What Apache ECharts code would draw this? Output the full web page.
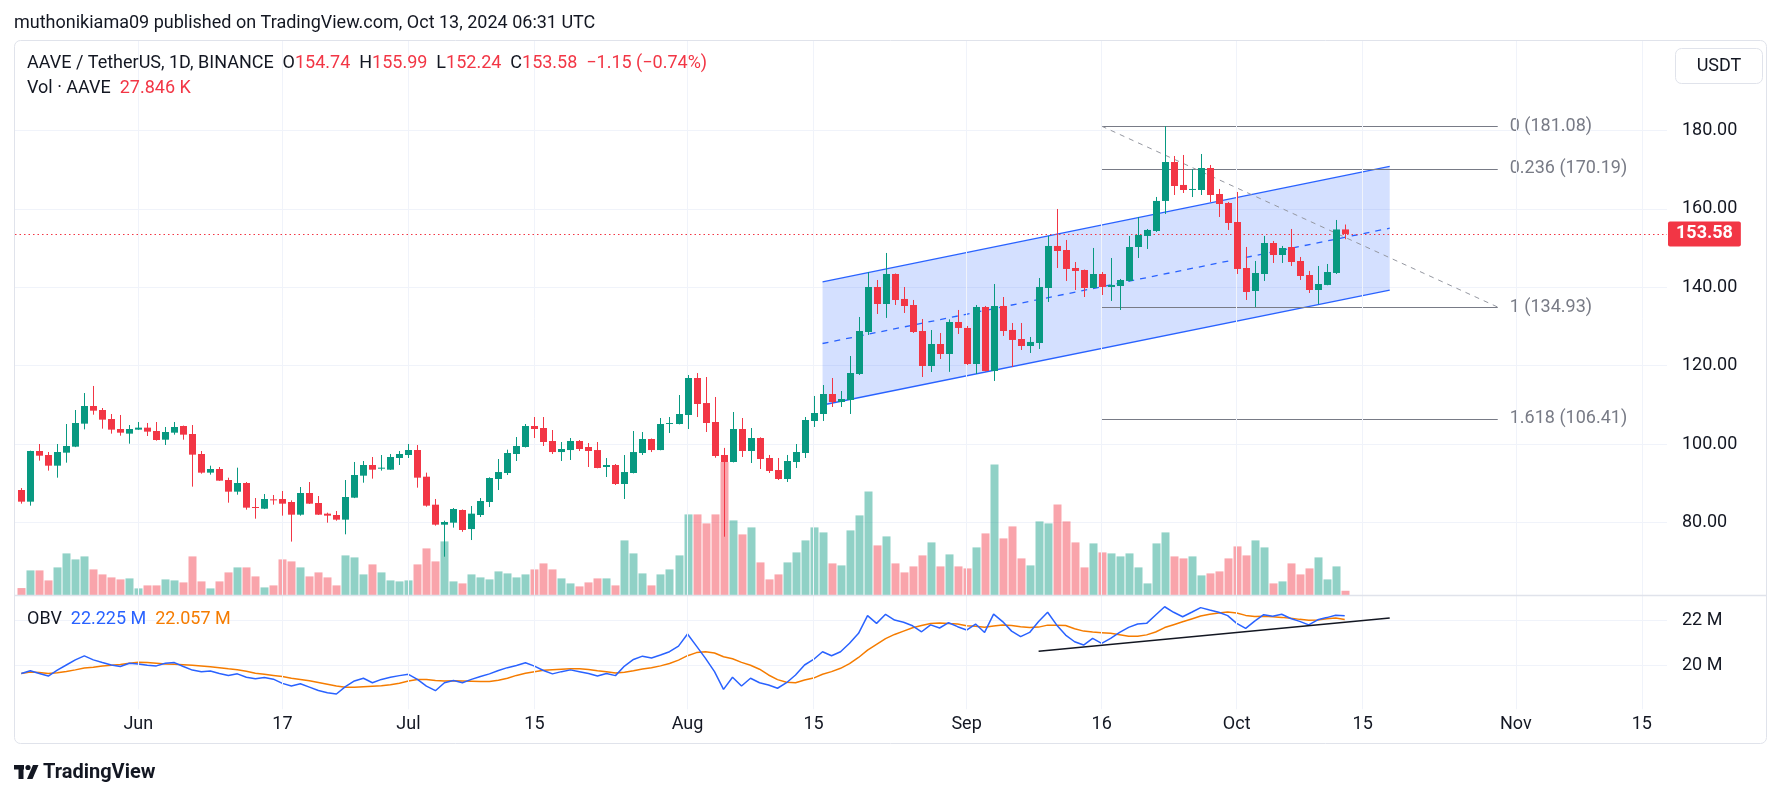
<!DOCTYPE html>
<html><head><meta charset="utf-8">
<script src="https://cdn.jsdelivr.net/npm/echarts@6/dist/echarts.min.js"></script>
<style>html,body{margin:0;padding:0;background:#fff;}#c{width:1781px;height:799px;}</style>
</head><body><div id="c"></div>
<script>
// ---------------- DATA ----------------
const startDate = '2024-05-19';
const openP = [88.26,85.29,98.21,97.19,94.47,97.79,99.32,105.19,109.69,108.67,106.38,103.83,102.64,103.66,104.17,103.32,101.1,102.89,104.59,102.55,97.45,92.69,93.62,90.81,87.84,90.05,83.93,83.5,85.88,85.97,85.2,81.97,87.5,84.95,82.23,81.89,80.7,86.31,91.92,94.64,93.79,93.45,96.43,97.19,98.47,91.66,84.52,79.42,79.93,83.16,78.3,81.88,85.2,91.07,92.6,97.45,99.23,104.59,104.08,100.76,97.95,98.46,100.76,99.23,98.46,94.13,94.64,89.79,92.6,97.7,101.27,98.46,105.1,105.1,107.4,116.83,110.45,105.61,97.2,95.41,103.83,98.22,101.53,96.43,93.37,91.07,95.41,97.7,105.87,107.66,112.76,110.72,111.23,117.86,128.57,140.05,135.72,143.37,137.0,135.46,128.83,119.9,125.51,122.96,131.13,129.6,120.41,134.95,118.63,135.21,129.09,126.79,125.0,125.77,139.8,150.52,149.49,144.9,144.39,139.8,143.37,140.06,140.31,141.59,150.26,153.07,154.34,162.0,171.94,166.08,164.9,164.8,170.41,163.78,161.48,156.64,144.9,139.03,143.37,151.28,148.22,150.26,146.69,143.12,139.29,140.57,143.63,154.74];
const highP = [88.77,98.3,100.0,97.96,100.0,105.1,108.67,113.0,114.8,109.18,107.65,107.4,104.84,105.61,105.36,105.61,104.34,105.61,104.7,104.84,98.21,94.47,94.13,91.41,93.96,90.3,86.22,87.24,86.99,88.01,85.63,89.03,90.3,86.73,82.48,82.91,90.81,95.41,95.66,96.68,97.19,97.45,98.21,100.0,99.74,92.69,85.97,80.44,83.67,83.3,84.18,86.22,91.5,96.17,98.55,101.78,105.1,106.88,106.88,103.57,100.51,101.53,101.02,100.25,100.51,96.42,94.89,97.19,103.31,103.06,101.4,106.63,106.88,112.5,117.6,118.1,117.09,111.99,99.0,108.16,106.63,104.08,101.7,97.2,96.43,97.2,100.0,106.89,112.25,115.05,116.84,113.52,122.45,132.4,143.88,141.84,148.73,143.5,140.05,136.74,131.89,129.08,128.32,131.8,134.19,130.11,135.46,135.21,140.82,137.5,130.87,130.87,127.3,142.35,153.07,159.95,152.05,146.43,144.5,150.01,143.88,147.45,142.1,153.07,157.91,154.85,163.02,181.08,173.47,173.73,170.16,173.98,171.18,165.06,161.74,164.29,150.26,146.69,153.07,151.79,150.52,154.85,147.71,144.14,145.41,145.92,157.15,155.99];
const lowP = [84.78,84.27,95.75,93.2,91.41,95.24,99.2,103.74,107.48,103.91,102.64,102.12,100.08,103.6,102.04,100.85,99.74,102.38,101.1,89.12,92.43,92.18,90.6,85.03,87.07,83.25,80.95,83.4,84.52,81.72,75.1,81.72,84.7,81.9,79.93,80.44,76.96,86.2,90.13,91.16,93.2,93.4,94.64,96.43,88.86,84.01,79.17,71.25,78.66,77.6,75.5,81.37,83.92,88.26,92.09,95.66,99.1,101.53,99.49,97.45,95.66,95.92,98.21,94.13,93.8,91.58,89.54,85.97,92.5,97.19,97.95,98.4,102.8,105.0,103.82,106.88,103.06,96.5,76.35,95.3,96.69,95.15,93.62,92.6,90.82,90.31,93.88,96.43,104.34,105.87,109.44,109.44,107.66,117.6,127.81,133.17,132.16,135.46,133.42,128.32,117.09,118.37,121.69,118.4,128.07,120.16,117.86,118.5,116.08,127.56,119.65,123.98,123.22,124.24,136.23,144.9,141.59,139.29,137.5,139.7,138.01,136.49,134.19,141.5,147.45,149.75,154.09,158.68,163.52,164.03,163.0,163.52,161.74,157.91,154.6,143.37,136.74,134.95,141.59,146.18,146.18,145.41,141.84,138.52,135.72,140.5,143.37,152.24];
const closeP = [85.29,98.21,97.02,94.47,97.96,99.49,105.36,109.69,108.5,106.21,103.66,102.89,103.83,104.17,103.15,101.02,103.06,104.34,102.38,97.28,92.69,93.62,90.65,87.84,90.05,83.76,83.76,85.97,85.71,84.78,81.97,87.5,84.78,81.97,81.72,80.7,86.48,92.09,94.64,93.45,93.96,96.68,97.45,98.47,91.41,84.27,79.42,80.1,83.42,78.06,82.23,85.46,91.32,92.85,97.7,99.49,104.59,103.82,100.51,97.95,98.72,100.76,98.72,98.21,93.87,94.64,89.79,92.85,97.95,101.27,98.46,105.1,105.35,107.65,116.83,110.2,105.36,96.94,95.41,103.83,98.22,101.53,96.18,93.12,91.07,95.66,97.96,106.12,107.91,112.76,110.72,111.48,118.11,128.83,140.05,135.72,143.37,136.74,135.21,128.57,119.9,125.51,122.96,131.13,129.6,120.41,134.95,118.63,135.21,128.83,126.54,125.0,126.03,140.06,150.52,149.24,144.65,144.14,139.8,143.37,140.06,140.57,141.84,150.26,153.32,154.6,162.0,171.94,165.82,164.8,165.06,170.41,163.52,161.23,156.38,144.65,138.78,143.63,151.28,148.22,150.0,146.43,142.86,139.29,140.82,143.88,154.73,153.58];
// volume, thousands of AAVE
const volumeK = [44,150,150,90,168,252,216,234,156,126,108,96,102,42,60,60,96,90,78,234,84,42,84,138,168,168,114,48,60,216,204,168,114,138,108,60,240,228,126,186,138,90,84,90,186,282,204,324,84,72,126,108,96,144,132,108,126,156,192,156,102,72,54,78,102,102,60,330,252,132,60,126,156,240,486,486,432,486,800,450,366,408,198,96,126,198,258,330,408,378,192,180,390,480,624,300,354,192,138,174,240,318,174,246,174,162,288,372,786,342,414,222,180,444,432,546,444,318,168,312,258,252,234,252,168,72,312,378,234,222,234,120,132,144,222,294,240,330,288,72,84,192,126,162,228,96,174,27.846];
// On-balance volume (blue), millions
const obvM = [19.62,19.74,19.62,19.50,19.77,20.00,20.23,20.41,20.23,20.11,20.00,19.93,20.08,20.05,19.99,19.96,20.08,20.11,19.93,19.77,19.70,19.73,19.62,19.53,19.60,19.45,19.38,19.44,19.36,19.17,19.05,19.15,19.00,18.85,18.75,18.69,19.02,19.28,19.40,19.20,19.35,19.45,19.52,19.58,19.35,19.05,18.84,19.20,19.30,19.20,19.35,19.48,19.60,19.75,19.88,19.98,20.10,19.95,19.75,19.60,19.70,19.78,19.70,19.62,19.50,19.62,19.52,19.95,20.25,20.40,20.32,20.45,20.60,20.85,21.40,20.85,20.30,19.70,18.90,19.45,19.05,19.40,19.20,19.10,18.95,19.20,19.55,20.00,20.25,20.60,20.42,20.60,20.98,21.43,22.23,21.88,22.29,22.03,21.93,21.77,21.50,21.81,21.67,21.91,21.73,21.58,21.85,21.47,22.30,21.96,21.53,21.28,21.47,21.96,22.38,21.81,21.35,21.05,20.90,21.20,20.98,21.20,21.47,21.70,21.85,21.88,22.26,22.63,22.38,22.18,22.38,22.59,22.48,22.38,22.23,21.88,21.65,21.98,22.27,22.20,22.29,22.10,21.97,21.81,22.04,22.14,22.25,22.225];
// OBV smoothing line (orange), millions
const obvMa = [19.62,19.68,19.66,19.62,19.65,19.71,19.78,19.86,19.90,19.96,19.99,20.02,20.08,20.12,20.11,20.08,20.05,20.03,20.01,19.99,19.96,19.92,19.88,19.83,19.79,19.72,19.63,19.58,19.53,19.48,19.40,19.35,19.29,19.21,19.13,19.05,19.00,19.00,19.02,19.04,19.06,19.11,19.18,19.28,19.35,19.35,19.30,19.28,19.29,19.28,19.27,19.26,19.26,19.31,19.40,19.53,19.63,19.70,19.76,19.79,19.81,19.83,19.83,19.80,19.74,19.69,19.64,19.67,19.74,19.82,19.88,19.96,20.07,20.22,20.42,20.56,20.60,20.54,20.37,20.28,20.12,19.99,19.81,19.55,19.34,19.22,19.20,19.32,19.41,19.58,19.70,19.85,20.06,20.34,20.67,20.93,21.19,21.38,21.53,21.68,21.78,21.87,21.90,21.87,21.85,21.77,21.75,21.70,21.76,21.81,21.78,21.73,21.69,21.71,21.80,21.80,21.78,21.64,21.53,21.49,21.46,21.43,21.37,21.30,21.30,21.36,21.49,21.69,21.82,21.95,22.08,22.21,22.29,22.35,22.39,22.35,22.24,22.19,22.20,22.18,22.15,22.11,22.06,22.02,22.03,22.09,22.12,22.057];
// x-axis tick labels
const xTicks = [['2024-06-01','Jun'],['2024-06-17','17'],['2024-07-01','Jul'],['2024-07-15','15'],['2024-08-01','Aug'],['2024-08-15','15'],['2024-09-01','Sep'],['2024-09-16','16'],['2024-10-01','Oct'],['2024-10-15','15'],['2024-11-01','Nov'],['2024-11-15','15']];
// drawings
const fibLevels = [[0,181.08],[0.236,170.19],[1,134.93],[1.618,106.41]];
const fibFrom = '2024-09-16', fibTo = '2024-10-30';
const channel = {from:'2024-08-16', to:'2024-10-18', upperFrom:141.33, lowerFrom:109.95, upperTo:170.81, lowerTo:139.28};
const obvTrend = [['2024-09-09',20.62],['2024-10-18',22.12]];

// ---------------- HELPERS ----------------
const DAY = 86400000;
const t0 = Date.parse(startDate + 'T00:00:00Z');
const idx = d => Math.round((Date.parse(d + 'T00:00:00Z') - t0) / DAY);
const UP = '#089981', DOWN = '#f23645', TXT = '#131722', GRAY = '#787b86', GRIDC = '#f0f3fa';
const FONT = 'Roboto, "Noto Sans", sans-serif';
const FS = 18;
const n = closeP.length;
const candleData = closeP.map((c, i) => [i, openP[i], c, lowP[i], highP[i]]);
const volData = volumeK.map((v, i) => [i, v, closeP[i] >= openP[i] ? 1 : 0]);
const obvData = obvM.map((v, i) => [i, v]);
const obvMaData = obvMa.map((v, i) => [i, v]);
const tickIdx = xTicks.map(t => idx(t[0]));
const tickText = {}; xTicks.forEach(t => tickText[idx(t[0])] = t[1]);
const lastClose = closeP[n - 1];

const XMIN = -0.7, XMAX = 182.8;
const L = 15, R = 1781 - 1667;
const xAx = (gi, showLabel) => ({
  type: 'value', gridIndex: gi, min: XMIN, max: XMAX,
  axisLine: {show: false}, axisTick: {show: false}, splitLine: {show: false},
  axisLabel: showLabel ? {
    show: true, customValues: tickIdx, formatter: v => tickText[Math.round(v)] || '',
    color: TXT, fontSize: FS, fontFamily: FONT, margin: 6
  } : {show: false}
});

const vLines = gi => ({
  type: 'line', xAxisIndex: gi, yAxisIndex: gi, data: [], z: 0, silent: true,
  markLine: {silent: true, symbol: ['none', 'none'], animation: false,
    label: {show: false}, lineStyle: {color: GRIDC, width: 1, type: 'solid'},
    data: tickIdx.map(v => ({xAxis: v}))}
});

const option = {
  animation: false,
  backgroundColor: '#ffffff',
  textStyle: {fontFamily: FONT},
  grid: [
    {left: L, right: R, top: 52, height: 548.8},
    {left: L, right: R, top: 41, height: 554.4},
    {left: L, right: R, top: 576.4, height: 132.9}
  ],
  xAxis: [xAx(0, false), xAx(1, false), xAx(2, true)],
  yAxis: [
    {type: 'value', gridIndex: 0, position: 'right', min: 60, max: 200, interval: 20,
      axisLine: {show: false}, axisTick: {show: false},
      splitLine: {show: true, showMinLine: false, showMaxLine: false, lineStyle: {color: GRIDC}},
      axisLabel: {formatter: v => (v >= 80 && v <= 180) ? v.toFixed(2) : '', color: TXT, fontSize: FS, fontFamily: FONT, margin: 15}},
    {type: 'value', gridIndex: 1, min: 0, max: 3326.4, show: false},
    {type: 'value', gridIndex: 2, position: 'right', min: 18, max: 24, interval: 2,
      axisLine: {show: false}, axisTick: {show: false},
      splitLine: {show: true, showMinLine: false, showMaxLine: false, lineStyle: {color: GRIDC}},
      axisLabel: {formatter: v => (v === 20 || v === 22) ? v + ' M' : '', color: TXT, fontSize: FS, fontFamily: FONT, margin: 15}}
  ],
  series: [
    vLines(1), vLines(2),
    { // volume
      type: 'custom', xAxisIndex: 1, yAxisIndex: 1, z: 1, data: volData, encode: {x: 0, y: 1},
      renderItem: (p, api) => {
        const i = api.value(0), v = api.value(1), up = api.value(2);
        const a = api.coord([i, v]), b = api.coord([i, 0]);
        const x = Math.round(a[0]);
        return {type: 'rect', shape: {x: x - 3.5, y: a[1], width: 8, height: b[1] - a[1]},
          style: {fill: up ? 'rgba(8,153,129,0.45)' : 'rgba(242,54,69,0.45)'}};
      }
    },
    { // channel
      type: 'custom', xAxisIndex: 0, yAxisIndex: 0, z: 2,
      data: [[idx(channel.from), channel.upperFrom, channel.lowerFrom, idx(channel.to), channel.upperTo, channel.lowerTo]],
      encode: {x: [0, 3], y: [1, 2, 4, 5]},
      renderItem: (p, api) => {
        const i1 = api.value(0), u1 = api.value(1), l1 = api.value(2), i2 = api.value(3), u2 = api.value(4), l2 = api.value(5);
        const A = api.coord([i1, u1]), B = api.coord([i2, u2]), C = api.coord([i2, l2]), D = api.coord([i1, l1]);
        const M1 = api.coord([i1, (u1 + l1) / 2]), M2 = api.coord([i2, (u2 + l2) / 2]);
        return {type: 'group', children: [
          {type: 'polygon', shape: {points: [A, B, C, D]}, style: {fill: 'rgba(41,98,255,0.2)'}},
          {type: 'line', shape: {x1: A[0], y1: A[1], x2: B[0], y2: B[1]}, style: {stroke: '#2962ff', lineWidth: 1.3}},
          {type: 'line', shape: {x1: D[0], y1: D[1], x2: C[0], y2: C[1]}, style: {stroke: '#2962ff', lineWidth: 1.3}},
          {type: 'line', shape: {x1: M1[0], y1: M1[1], x2: M2[0], y2: M2[1]}, style: {stroke: '#2962ff', lineWidth: 1.3, lineDash: [6, 6]}}
        ]};
      }
    },
    { // fib levels
      type: 'custom', xAxisIndex: 0, yAxisIndex: 0, z: 3, clip: false,
      data: fibLevels.map(f => [idx(fibFrom), idx(fibTo), f[1], f[0]]),
      encode: {x: [0, 1], y: 2},
      renderItem: (p, api) => {
        const a = api.coord([api.value(0), api.value(2)]), b = api.coord([api.value(1), api.value(2)]);
        const lvl = api.value(3), pr = api.value(2);
        return {type: 'group', children: [
          {type: 'line', shape: {x1: a[0], y1: Math.round(a[1]) + 0.5, x2: b[0], y2: Math.round(a[1]) + 0.5}, style: {stroke: GRAY, lineWidth: 1}},
          {type: 'text', style: {x: b[0] + 12, y: a[1], text: lvl + ' (' + pr.toFixed(2) + ')', fill: GRAY, font: FS + 'px ' + FONT, verticalAlign: 'middle', align: 'left'}}
        ]};
      }
    },
    { // fib trend (dashed)
      type: 'line', xAxisIndex: 0, yAxisIndex: 0, z: 3, symbol: 'none', silent: true,
      data: [[idx(fibFrom), fibLevels[0][1]], [idx(fibTo), fibLevels[2][1]]],
      lineStyle: {color: '#9598a1', width: 1, type: [5, 5]}
    },
    { // candles
      type: 'custom', xAxisIndex: 0, yAxisIndex: 0, z: 5, data: candleData, encode: {x: 0, y: [1, 2, 3, 4]},
      renderItem: (p, api) => {
        const i = api.value(0), o = api.value(1), c = api.value(2), l = api.value(3), h = api.value(4);
        const pO = api.coord([i, o]), pC = api.coord([i, c]), pL = api.coord([i, l]), pH = api.coord([i, h]);
        const col = c >= o ? UP : DOWN;
        const x = Math.round(pO[0]);
        const top = Math.min(pO[1], pC[1]), bot = Math.max(pO[1], pC[1]);
        return {type: 'group', children: [
          {type: 'line', shape: {x1: x + 0.5, y1: pH[1], x2: x + 0.5, y2: pL[1]}, style: {stroke: col, lineWidth: 1}},
          {type: 'rect', shape: {x: x - 3, y: top, width: 7, height: Math.max(bot - top, 1)}, style: {fill: col}}
        ]};
      },
      markLine: {silent: true, symbol: ['none', 'none'], animation: false,
        lineStyle: {color: DOWN, width: 1, type: [1.5, 3]},
        label: {show: true, position: 'end', distance: 1, formatter: lastClose.toFixed(2), color: '#fff',
          backgroundColor: DOWN, padding: [4, 8, 3, 8], borderRadius: 2, fontSize: FS, fontFamily: FONT, fontWeight: 'bold'},
        data: [{yAxis: lastClose}]}
    },
    { // OBV
      type: 'line', xAxisIndex: 2, yAxisIndex: 2, z: 4, symbol: 'none', data: obvData,
      lineStyle: {color: '#2962ff', width: 1.5}
    },
    { // OBV smoothing
      type: 'line', xAxisIndex: 2, yAxisIndex: 2, z: 3, symbol: 'none', data: obvMaData,
      lineStyle: {color: '#f57c00', width: 1.5}
    },
    { // OBV trend line
      type: 'line', xAxisIndex: 2, yAxisIndex: 2, z: 5, symbol: 'none',
      data: obvTrend.map(t => [idx(t[0]), t[1]]),
      lineStyle: {color: TXT, width: 1.5}
    }
  ],
  graphic: [
    {type: 'text', z: 10, style: {x: 14, y: 23, text: 'muthonikiama09 published on TradingView.com, Oct 13, 2024 06:31 UTC', fill: TXT, font: '18px ' + FONT, verticalAlign: 'middle'}},
    {type: 'rect', z: 0, shape: {x: 14.5, y: 40.5, width: 1752, height: 703, r: 6}, style: {fill: 'none', stroke: '#e0e3eb', lineWidth: 1}},
    {type: 'line', z: 10, shape: {x1: 15, y1: 595.5, x2: 1766, y2: 595.5}, style: {stroke: '#e0e3eb', lineWidth: 1.5}},
    {type: 'text', z: 10, style: {x: 27, y: 63.5, verticalAlign: 'middle', font: FS + 'px ' + FONT, fill: TXT,
      text: '{k|AAVE / TetherUS, 1D, BINANCE}  {k|O}{r|' + openP[n-1].toFixed(2) + '}  {k|H}{r|' + highP[n-1].toFixed(2) + '}  {k|L}{r|' + lowP[n-1].toFixed(2) + '}  {k|C}{r|' + closeP[n-1].toFixed(2) + '}  {r|\u22121.15 (\u22120.74%)}',
      rich: {k: {fill: TXT, font: FS + 'px ' + FONT}, r: {fill: DOWN, font: FS + 'px ' + FONT}}}},
    {type: 'text', z: 10, style: {x: 27, y: 88.6, verticalAlign: 'middle', font: FS + 'px ' + FONT,
      text: '{k|Vol \u00b7 AAVE}  {r|27.846 K}', rich: {k: {fill: TXT, font: FS + 'px ' + FONT}, r: {fill: DOWN, font: FS + 'px ' + FONT}}}},
    {type: 'rect', z: 10, shape: {x: 1675.5, y: 48.5, width: 87, height: 35, r: 6}, style: {fill: '#fff', stroke: '#e0e3eb', lineWidth: 1}},
    {type: 'text', z: 11, style: {x: 1719, y: 66, text: 'USDT', align: 'center', verticalAlign: 'middle', fill: TXT, font: FS + 'px ' + FONT}},
    {type: 'text', z: 10, style: {x: 27, y: 619.3, verticalAlign: 'middle', font: FS + 'px ' + FONT,
      text: '{k|OBV}  {b|22.225 M}  {o|22.057 M}', rich: {k: {fill: TXT, font: FS + 'px ' + FONT}, b: {fill: '#2962ff', font: FS + 'px ' + FONT}, o: {fill: '#f57c00', font: FS + 'px ' + FONT}}}},
    // TradingView logo
    {type: 'group', z: 10, children: [
      {type: 'rect', shape: {x: 14, y: 765, width: 10, height: 4.5}, style: {fill: TXT}},
      {type: 'rect', shape: {x: 18.5, y: 765, width: 5, height: 14}, style: {fill: TXT}},
      {type: 'circle', shape: {cx: 28, cy: 767.5, r: 2.6}, style: {fill: TXT}},
      {type: 'polygon', shape: {points: [[33, 765], [38.5, 765], [32.5, 779], [27, 779]]}, style: {fill: TXT}}
    ]},
    {type: 'text', z: 10, style: {x: 43, y: 772.5, text: 'TradingView', verticalAlign: 'middle', fill: TXT, font: 'bold 20px ' + FONT}}
  ]
};
const chart = echarts.init(document.getElementById('c'), null, {width: 1781, height: 799});
chart.setOption(option);
</script></body></html>
